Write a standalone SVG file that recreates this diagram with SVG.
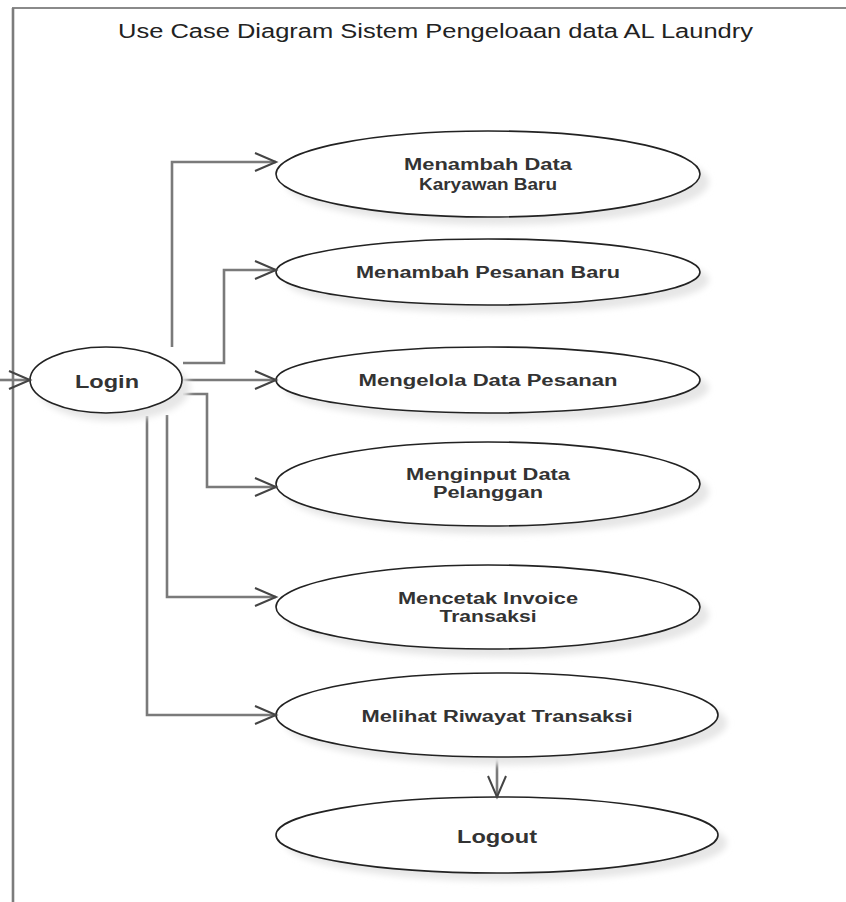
<svg xmlns="http://www.w3.org/2000/svg" width="846" height="902" viewBox="0 0 846 902">
  <defs>
    <filter id="soft" x="-10%" y="-20%" width="120%" height="140%">
      <feGaussianBlur stdDeviation="3"/>
    </filter>
  </defs>
  <style>
    .frame { fill: none; stroke: #8a8a8a; stroke-width: 2; }
    .frame-side { fill: none; stroke: #7c7c7c; stroke-width: 2.6; }
    .uc { fill: #ffffff; stroke: #222222; stroke-width: 1.6; }
    .shadow { fill: #e6e6e6; filter: url(#soft); }
    .conn { fill: none; stroke: #7a7a7a; stroke-width: 2.6; }
    .head { fill: none; stroke: #444444; stroke-width: 2; }
    text { font-family: "Liberation Sans", Arial, sans-serif; fill: #333333; text-anchor: middle; }
    .title { font-size: 20px; fill: #222222; }
    .lbl { font-size: 16px; font-weight: bold; }
    .big { font-size: 19px; font-weight: bold; }
  </style>

  <rect width="846" height="902" fill="#ffffff"/>

  <!-- system boundary -->
  <path class="frame" d="M12,8 L846,8"/>
  <path class="frame-side" d="M13,8 L13,902"/>
  <text class="title" x="435.5" y="38" textLength="635" lengthAdjust="spacingAndGlyphs">Use Case Diagram Sistem Pengeloaan data AL Laundry</text>

  <!-- connectors -->
  <g id="connectors">
    <path class="conn" d="M0,380 L30,380"/>
    <path class="conn" d="M172,347 L172,162 L276,162"/>
    <path class="conn" d="M183,363 L224,363 L224,270 L276,270"/>
    <path class="conn" d="M183,380 L276,380"/>
    <path class="conn" d="M183,394 L207,394 L207,487 L276,487"/>
    <path class="conn" d="M167,415 L167,597 L276,597"/>
    <path class="conn" d="M147,416 L147,715 L276,715"/>
    <path class="conn" d="M497,758 L497,797"/>
  </g>

  <!-- use cases -->
  <g id="login">
    <ellipse class="shadow" cx="114" cy="388" rx="76" ry="33"/>
    <ellipse class="uc" cx="106" cy="380" rx="76" ry="33"/>
    <text class="big" x="107" y="388" textLength="64" lengthAdjust="spacingAndGlyphs">Login</text>
  </g>

  <g id="uc-karyawan">
    <ellipse class="shadow" cx="497" cy="182" rx="212" ry="43"/>
    <ellipse class="uc" cx="488" cy="174" rx="212" ry="43"/>
    <text class="lbl" x="488" y="170" textLength="168" lengthAdjust="spacingAndGlyphs">Menambah Data</text>
    <text class="lbl" x="488" y="190" textLength="138" lengthAdjust="spacingAndGlyphs">Karyawan Baru</text>
  </g>

  <g id="uc-pesanan-baru">
    <ellipse class="shadow" cx="497" cy="280" rx="212" ry="33"/>
    <ellipse class="uc" cx="488" cy="272" rx="212" ry="33"/>
    <text class="lbl" x="488" y="278" textLength="264" lengthAdjust="spacingAndGlyphs">Menambah Pesanan Baru</text>
  </g>

  <g id="uc-kelola-pesanan">
    <ellipse class="shadow" cx="497" cy="388" rx="212" ry="33"/>
    <ellipse class="uc" cx="488" cy="380" rx="212" ry="33"/>
    <text class="lbl" x="488" y="386" textLength="259" lengthAdjust="spacingAndGlyphs">Mengelola Data Pesanan</text>
  </g>

  <g id="uc-pelanggan">
    <ellipse class="shadow" cx="497" cy="492" rx="212" ry="42"/>
    <ellipse class="uc" cx="488" cy="484" rx="212" ry="42"/>
    <text class="lbl" x="488" y="480" textLength="164" lengthAdjust="spacingAndGlyphs">Menginput Data</text>
    <text class="lbl" x="488" y="498" textLength="110" lengthAdjust="spacingAndGlyphs">Pelanggan</text>
  </g>

  <g id="uc-invoice">
    <ellipse class="shadow" cx="497" cy="615" rx="212" ry="42"/>
    <ellipse class="uc" cx="488" cy="607" rx="212" ry="42"/>
    <text class="lbl" x="488" y="604" textLength="180" lengthAdjust="spacingAndGlyphs">Mencetak Invoice</text>
    <text class="lbl" x="488" y="622" textLength="97" lengthAdjust="spacingAndGlyphs">Transaksi</text>
  </g>

  <g id="uc-riwayat">
    <ellipse class="shadow" cx="506" cy="723" rx="221" ry="42"/>
    <ellipse class="uc" cx="497" cy="715" rx="221" ry="42"/>
    <text class="lbl" x="497" y="722" textLength="271" lengthAdjust="spacingAndGlyphs">Melihat Riwayat Transaksi</text>
  </g>

  <g id="logout">
    <ellipse class="shadow" cx="506" cy="843" rx="221" ry="38"/>
    <ellipse class="uc" cx="497" cy="835" rx="221" ry="38"/>
    <text class="big" x="497" y="843" textLength="80" lengthAdjust="spacingAndGlyphs">Logout</text>
  </g>

  <!-- open arrowheads, drawn over the ellipse outlines -->
  <g id="arrowheads">
    <path class="head" d="M255,153 L276,162 L255,171"/>
    <path class="head" d="M255,261 L276,270 L255,279"/>
    <path class="head" d="M255,371 L276,380 L255,389"/>
    <path class="head" d="M255,478 L276,487 L255,496"/>
    <path class="head" d="M255,588 L276,597 L255,606"/>
    <path class="head" d="M255,706 L276,715 L255,724"/>
    <path class="head" d="M488,776 L497,797 L506,776"/>
    <path class="head" d="M9,371 L30,380 L9,389"/>
  </g>
</svg>
